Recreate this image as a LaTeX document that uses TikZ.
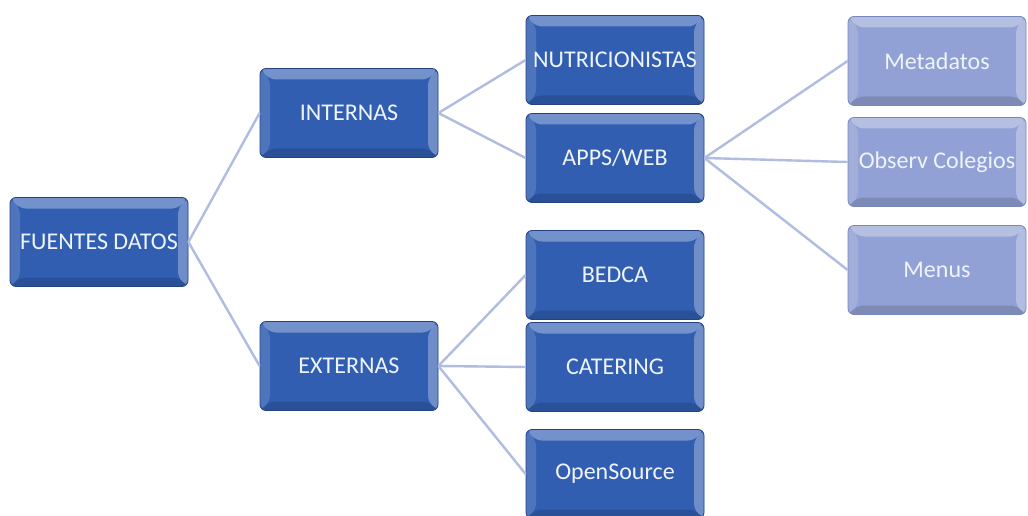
\documentclass[tikz,border=0pt]{standalone}
\usepackage{fontspec}
\setmainfont{Carlito}
\usetikzlibrary{calc}
\definecolor{darkbox}{RGB}{50,94,178}
\definecolor{darkedge}{RGB}{36,66,132}
\definecolor{lightbox}{RGB}{146,161,213}
\definecolor{lightedge}{RGB}{120,135,190}
\definecolor{linkcol}{RGB}{176,188,224}
\definecolor{txt}{RGB}{238,244,250}
\tikzset{
  bevel/.style={path picture={
    \coordinate (nw) at (path picture bounding box.north west);
    \coordinate (ne) at (path picture bounding box.north east);
    \coordinate (sw) at (path picture bounding box.south west);
    \coordinate (se) at (path picture bounding box.south east);
    \fill[white,opacity=.32] (nw) -- (ne) -- ($(ne)+(-10pt,-11pt)$) -- ($(nw)+(10pt,-11pt)$) -- cycle;
    \fill[white,opacity=.14] (nw) -- ($(nw)+(10pt,-11pt)$) -- ($(sw)+(10pt,9pt)$) -- (sw) -- cycle;
    \fill[white,opacity=.30] (ne) -- ($(ne)+(-10pt,-11pt)$) -- ($(se)+(-10pt,9pt)$) -- (se) -- cycle;
    \fill[black,opacity=.14] (sw) -- ($(sw)+(10pt,9pt)$) -- ($(se)+(-10pt,9pt)$) -- (se) -- cycle;
  }},
  boxbase/.style={rounded corners=6pt, minimum width=178pt, minimum height=89pt,
    inner sep=0pt, text=txt, font=\fontsize{24}{28}\selectfont, line width=0.8pt, bevel},
  darkbx/.style={boxbase, fill=darkbox, draw=darkedge},
  lightbx/.style={boxbase, fill=lightbox, draw=lightedge},
  link/.style={draw=linkcol, line width=2.4pt}
}
\begin{document}
\begin{tikzpicture}[x=1pt,y=-1pt]
\useasboundingbox (0,0) rectangle (1028,516);
\fill[white] (0,0) rectangle (1028,516);
% the boxes of the tree
\node[darkbx] (root) at (99,242) {FUENTES DATOS};
\node[darkbx] (int) at (349,113) {INTERNAS};
\node[darkbx] (ext) at (349,366) {EXTERNAS};
\node[darkbx] (nut) at (615,60) {NUTRICIONISTAS};
\node[darkbx] (app) at (615,158) {APPS/WEB};
\node[darkbx] (bed) at (615,275) {BEDCA};
\node[darkbx] (cat) at (615,367) {CATERING};
\node[darkbx] (ops) at (615,474) {OpenSource};
\node[lightbx] (meta) at (937,61) {Metadatos};
\node[lightbx] (obs) at (937,162) {Observ Colegios};
\node[lightbx] (men) at (937,270) {Menus};
% links from each parent's right side to each child's left side
\draw[link] (root.east) -- (int.west);
\draw[link] (root.east) -- (ext.west);
\draw[link] (int.east) -- (nut.west);
\draw[link] (int.east) -- (app.west);
\draw[link] (ext.east) -- (bed.west);
\draw[link] (ext.east) -- (cat.west);
\draw[link] (ext.east) -- (ops.west);
\draw[link] (app.east) -- (meta.west);
\draw[link] (app.east) -- (obs.west);
\draw[link] (app.east) -- (men.west);
\end{tikzpicture}
\end{document}
